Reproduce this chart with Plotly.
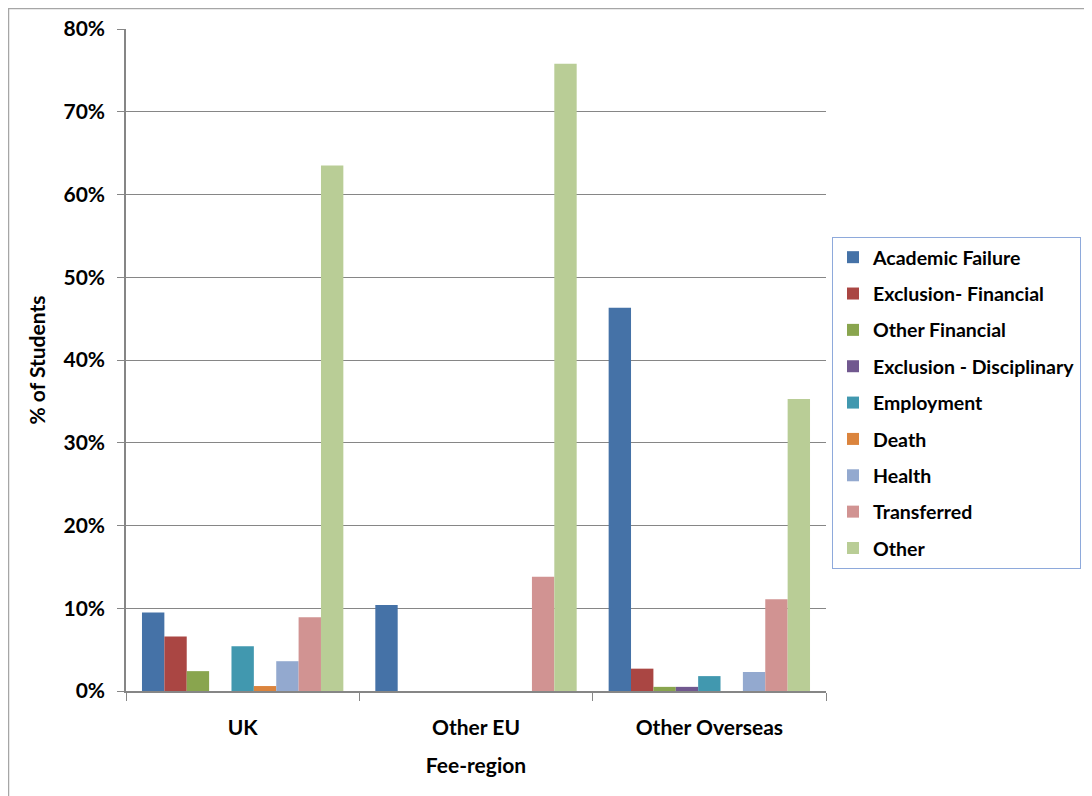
import plotly.graph_objects as go

categories = ["UK", "Other EU", "Other Overseas"]
series_names = ["Academic Failure", "Exclusion- Financial", "Other Financial",
                "Exclusion - Disciplinary", "Employment", "Death", "Health",
                "Transferred", "Other"]
academic_failure = [0.095, 0.104, 0.463]
exclusion_financial = [0.066, 0.0, 0.027]
other_financial = [0.024, 0.0, 0.005]
exclusion_disciplinary = [0.0, 0.0, 0.005]
employment = [0.054, 0.0, 0.018]
death = [0.006, 0.0, 0.0]
health = [0.036, 0.0, 0.023]
transferred = [0.089, 0.138, 0.111]
other = [0.635, 0.758, 0.353]
y_ticks = [0, 0.1, 0.2, 0.3, 0.4, 0.5, 0.6, 0.7, 0.8]

series_values = [academic_failure, exclusion_financial, other_financial,
                 exclusion_disciplinary, employment, death, health,
                 transferred, other]
colors = ["#4572A7", "#AA4643", "#89A54E", "#71588F", "#4198AF",
          "#DB843D", "#93A9CF", "#D19392", "#B9CD96"]

FONT = "Lato"
FS = 21

W, H = 1084, 788
L, T, PW, PH = 118, 21, 700, 662

fig = go.Figure()
for name, vals, col in zip(series_names, series_values, colors):
    fig.add_trace(go.Bar(
        x=categories, y=vals, name=name, legendgroup=name,
        marker=dict(color=col, line=dict(width=0)),
    ))

fig.update_layout(
    width=W, height=H,
    margin=dict(l=L, r=W - L - PW, t=T, b=H - T - PH, autoexpand=False),
    paper_bgcolor="white", plot_bgcolor="white",
    barmode="group", bargap=0.137, bargroupgap=0,
    font=dict(family=FONT, color="black", size=FS),
    showlegend=True,
    legend=dict(
        x=(832 - 8 - L) / PW, xanchor="left",
        y=(691 - 237) / PH, yanchor="top",
        bordercolor="#8EA9DB", borderwidth=1,
        font=dict(family=FONT, size=19.5, color="black", weight="bold"),
        tracegroupgap=8, traceorder="grouped",
        itemwidth=30,
    ),
    xaxis=dict(
        showline=True, linecolor="#868686", linewidth=1.5,
        ticks="outside", tickson="boundaries", ticklen=8, tickcolor="#868686",
        tickfont=dict(family=FONT, size=FS, weight="bold"),
        title=dict(text="Fee-region", font=dict(family=FONT, size=FS, weight="bold"), standoff=20),
        ticklabelstandoff=17,
    ),
    yaxis=dict(
        range=[0, 0.8], tickvals=y_ticks, tickformat=".0%",
        showline=True, linecolor="#868686", linewidth=1.5,
        showgrid=True, gridcolor="#868686", gridwidth=1,
        ticks="outside", ticklen=7, tickcolor="#868686",
        tickfont=dict(family=FONT, size=FS, weight="bold"),
        ticklabelstandoff=8,
        title=dict(text="% of Students", font=dict(family=FONT, size=FS, weight="bold"), standoff=12),
        zeroline=False,
    ),
)

# outer chart border
fig.add_shape(type="rect", xref="paper", yref="paper",
              x0=(0.5 - L) / PW, x1=(W + 20 - L) / PW,
              y0=(T + PH - H - 20) / PH, y1=(T + PH - 0.5) / PH,
              line=dict(color="#A6A6A6", width=1.5), layer="below")

fig.write_html("out.html")
